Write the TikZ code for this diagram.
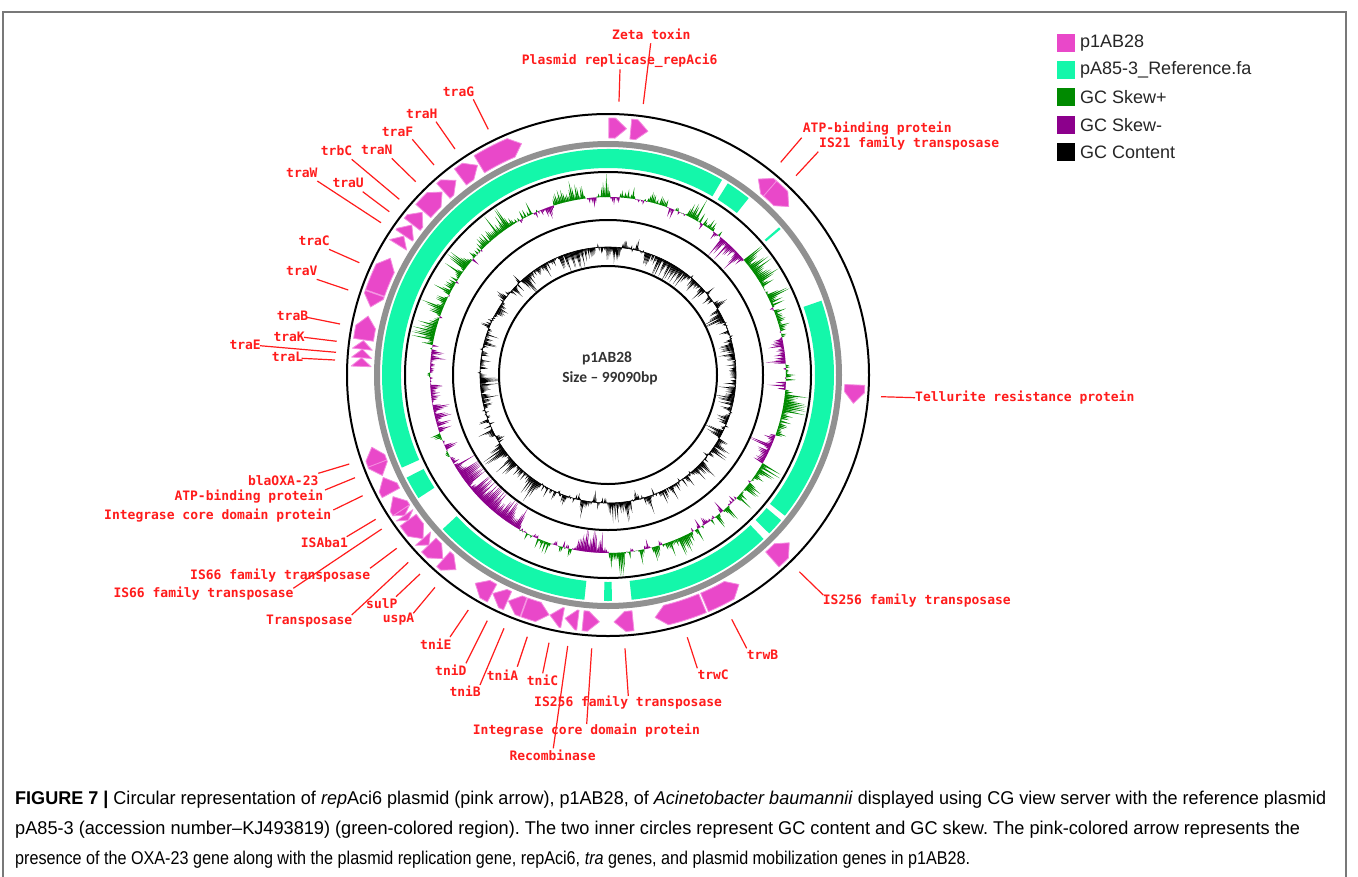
\documentclass[tikz,border=0pt]{standalone}
\usepackage{fontspec}
\usepackage{graphicx}
\setmainfont{Liberation Sans}
\newfontfamily\labfont{DejaVu Sans Mono}
\newfontfamily\cenfont{Carlito}
\definecolor{pinkF}{RGB}{233,72,201}
\definecolor{pinkL}{RGB}{244,140,224}
\definecolor{mintF}{RGB}{20,247,170}
\definecolor{ringgray}{RGB}{145,145,145}
\definecolor{skewpos}{RGB}{0,138,0}
\definecolor{skewneg}{RGB}{140,0,140}
\definecolor{labred}{RGB}{255,28,28}
\definecolor{framegray}{RGB}{120,120,120}
\definecolor{captext}{RGB}{40,40,40}
\newsavebox\capboxa
\newsavebox\capboxb
\newsavebox\capboxc
\tikzset{
  featstyle/.style={fill=pinkF,draw=pinkL,line width=0.8pt,line join=round},
  segstyle/.style={fill=mintF},
  labstyle/.style={text=labred,font=\labfont\bfseries\fontsize{13}{13}\selectfont,inner sep=0pt,anchor=west},
  leader/.style={draw=labred,line width=1.2pt},
  ringline/.style={draw=black,line width=2pt},
  legtext/.style={font=\fontsize{18}{18}\selectfont,text=black!85,inner sep=0pt,anchor=west},
  captext/.style={text=captext,inner sep=0pt,anchor=west},
  centext/.style={font=\cenfont\bfseries\fontsize{15.5}{15.5}\selectfont,text=black!80,inner sep=0pt},
}
% feature: start angle, end angle (clockwise from north), direction
\newcommand\feat[3]{%
  \pgfmathsetmacro\fA{#1-90}%
  \pgfmathsetmacro\fB{#2-90}%
  \pgfmathsetmacro\fH{min(2.6,#2-#1)}%
  \ifnum#3>0
    \pgfmathsetmacro\fC{\fB-\fH}%
    \path[featstyle] (\fA:237) arc[start angle=\fA,end angle=\fC,radius=237] -- (\fB:247) -- (\fC:257) arc[start angle=\fC,end angle=\fA,radius=257] -- cycle;
  \else
    \pgfmathsetmacro\fC{\fA+\fH}%
    \path[featstyle] (\fA:247) -- (\fC:237) arc[start angle=\fC,end angle=\fB,radius=237] -- (\fB:257) arc[start angle=\fB,end angle=\fC,radius=257] -- cycle;
  \fi}
\newcommand\gseg[2]{%
  \pgfmathsetmacro\fA{#1-90}%
  \pgfmathsetmacro\fB{#2-90}%
  \path[segstyle] (\fA:207) arc[start angle=\fA,end angle=\fB,radius=207] -- (\fB:226) arc[start angle=\fB,end angle=\fA,radius=226] -- cycle;}
\newcommand\glab[8]{%
  \node[labstyle] (#1) at (#2,#3) {#4};
  \coordinate (#1s) at (#5,#6);
  \coordinate (#1e) at (#7,#8);
  \draw[leader] (#1s) -- (#1e);}
\begin{document}
\frenchspacing
\sbox\capboxa{\fontsize{18.5}{18.5}\selectfont\textbf{FIGURE 7 |} Circular representation of \textit{rep}Aci6 plasmid (pink arrow), p1AB28, of \textit{Acinetobacter baumannii} displayed using CG view server with the reference plasmid}%
\sbox\capboxb{\fontsize{18.5}{18.5}\selectfont pA85-3 (accession number–KJ493819) (green-colored region). The two inner circles represent GC content and GC skew. The pink-colored arrow represents the}%
\sbox\capboxc{\fontsize{18.5}{18.5}\selectfont presence of the OXA-23 gene along with the plasmid replication gene, repAci6, \textit{tra} genes, and plasmid mobilization genes in p1AB28.}%
\pgfmathsetmacro\capsc{1311/\the\wd\capboxa}%
\pgfmathsetmacro\capsb{1285/\the\wd\capboxb}%
\pgfmathsetmacro\capsd{955/\the\wd\capboxc}%
\begin{tikzpicture}[x=1pt,y=-1pt]
\useasboundingbox (0,0) rectangle (1358,876);
\fill[white] (0,0) rectangle (1358,876);
\draw[framegray,line width=1.2pt] (3,880) -- (3,12) -- (1346,12) -- (1346,880);

\begin{scope}[shift={(608,375)}]
  % GC content
  \pgfmathsetseed{3}
  \gdef\gprev{0}
  \draw[black,line width=0.6pt] (0,0) circle[radius=128];
  \foreach \i in {0,...,719}{
    \pgfmathsetmacro\gt{\i*0.5}
    \pgfmathtruncatemacro\gk{floor(\gt/10)}
    \pgfmathsetmacro\gb{{-6,-5,-4,-3,-2,-3,-2,-2,-3,-4,-3,-4,4,8,3,2,1,5,-2,1,2,6,8,4,-1,-3,-4,-3,-2,-2,-1,-2,-2,-3,-5,-6}[\gk]}
    \pgfmathsetmacro\gn{0.8*\gprev+rnd-0.5}
    \xdef\gprev{\gn}
    \pgfmathsetmacro\gv{max(-20,min(24,1.25*(1.5*\gb+12*\gn)*(0.35+1.1*rnd)))}
    \pgfmathsetmacro\gr{128+\gv}
    \pgfmathsetmacro\ga{\gt-90}
    \fill[black] (\ga-0.33:128) -- (\ga:\gr) -- (\ga+0.33:128) -- cycle;
  }
  % GC skew
  \pgfmathsetseed{11}
  \gdef\gprev{0}
  \foreach \i in {0,...,719}{
    \pgfmathsetmacro\gt{\i*0.5}
    \pgfmathtruncatemacro\gk{floor(\gt/10)}
    \pgfmathsetmacro\gb{{3,4,5,2,-6,4,5,2,3,4,3,-5,7,2,-2,3,4,3,-2,1,-3,-9,-10,-5,-3,-4,-3,-2,2,2,4,3,5,3,3,2}[\gk]}
    \pgfmathsetmacro\gn{0.8*\gprev+rnd-0.5}
    \xdef\gprev{\gn}
    \pgfmathsetmacro\gv{max(-23,min(23,1.3*(1.6*\gb+14*\gn)*(0.35+1.1*rnd)))}
    \pgfmathsetmacro\gr{178+\gv}
    \pgfmathsetmacro\ga{\gt-90}
    \ifdim\gv pt>0pt
      \fill[skewpos] (\ga-0.33:178) -- (\ga:\gr) -- (\ga+0.33:178) -- cycle;
    \else
      \fill[skewneg] (\ga-0.33:178) -- (\ga:\gr) -- (\ga+0.33:178) -- cycle;
    \fi
  }
  % rings
  \draw[ringline] (0,0) circle[radius=109];
  \draw[ringline] (0,0) circle[radius=155];
  \draw[ringline] (0,0) circle[radius=203];
  \draw[ringgray,line width=6pt] (0,0) circle[radius=231];
  \draw[ringline] (0,0) circle[radius=261];
  % reference segments
  \gseg{-114.2}{30.3}
  \gseg{32}{38.5}
  \gseg{49.2}{49.8}
  \gseg{70.8}{128.5}
  \gseg{130}{134.5}
  \gseg{136.5}{174}
  \gseg{179}{181}
  \gseg{186}{227}
  \gseg{237}{243}
  % features
  \feat{0.2}{4.3}{1}
  \feat{5.3}{9.3}{1}
  \feat{37.5}{41}{-1}
  \feat{41}{47}{1}
  \feat{92.3}{96.6}{1}
  \feat{132.8}{138.3}{-1}
  \feat{148}{157}{-1}
  \feat{157.5}{169}{1}
  \feat{174.2}{178.6}{1}
  \feat{182}{185.8}{-1}
  \feat{187}{190}{1}
  \feat{190.6}{193.6}{1}
  \feat{193.8}{199.8}{-1}
  \feat{200}{203.8}{1}
  \feat{204}{207.8}{1}
  \feat{208}{212.5}{1}
  \feat{218}{221.8}{-1}
  \feat{222}{226.5}{-1}
  \feat{226.5}{228.5}{-1}
  \feat{228.5}{234}{-1}
  \feat{234}{235.4}{-1}
  \feat{235.4}{236.8}{-1}
  \feat{236.8}{240.5}{1}
  \feat{241.5}{245.5}{1}
  \feat{246}{249}{-1}
  \feat{249}{253}{1}
  \feat{272}{274}{1}
  \feat{274}{276}{1}
  \feat{276}{278}{1}
  \feat{278.2}{283.8}{1}
  \feat{286}{289.2}{-1}
  \feat{289.4}{298.2}{1}
  \feat{301.8}{304.2}{1}
  \feat{304.4}{307.4}{1}
  \feat{307.6}{311.2}{1}
  \feat{311.6}{317.8}{1}
  \feat{318.2}{322}{1}
  \feat{323.3}{328.1}{1}
  \feat{328.6}{339.5}{1}
  % centre
  \node[centext] (cname) at (-1,-17) {p1AB28};
  \node[centext] (csize) at (2,3) {Size – 99090bp};
\end{scope}

% labels
\glab{lzeta}{612}{34}{Zeta toxin}{650.7}{43.3}{643.3}{104}
\glab{lplas}{521.7}{61}{Plasmid replicase\_repAci6}{620}{69.3}{619}{101.7}
\glab{ltraG}{442.7}{91.7}{traG}{473.3}{99.3}{488.3}{129.3}
\glab{ltraH}{406}{114}{traH}{436}{121.7}{455}{149}
\glab{ltraF}{381.7}{131.7}{traF}{412.3}{139.3}{434}{165}
\glab{ltraN}{361}{150}{traN}{391.7}{158.3}{415.7}{181.7}
\glab{ltrbC}{320.7}{150.7}{trbC}{351.7}{159.3}{399.3}{199.3}
\glab{ltraU}{332.3}{183.3}{traU}{362.7}{191.7}{389.3}{211.7}
\glab{ltraW}{286}{172.7}{traW}{317.3}{181}{381}{222.7}
\glab{ltraC}{298.3}{240.7}{traC}{329}{249.3}{359.3}{262.7}
\glab{ltraV}{286}{271}{traV}{316.7}{279.3}{348.3}{290}
\glab{ltraB}{276.7}{316}{traB}{306.7}{317.3}{340}{324}
\glab{ltraK}{273.3}{336.7}{traK}{304}{337.3}{336.7}{341.3}
\glab{ltraE}{229.3}{345}{traE}{260}{345.7}{336}{352.3}
\glab{ltraL}{271.7}{357.3}{traL}{301.7}{358.3}{335}{360}
\glab{lbla}{247.8}{480.7}{blaOXA-23}{318.3}{473.3}{349.3}{464}
\glab{latpA}{174.3}{496.7}{ATP-binding protein}{325}{490}{355}{477.7}
\glab{lintA}{104}{516}{Integrase core domain protein}{333.3}{510}{362.7}{495.7}
\glab{lisaba}{300.7}{542.7}{ISAba1}{346.7}{536.7}{375.7}{519.3}
\glab{lisA}{190}{575.7}{IS66 family transposase}{370}{568.3}{396.7}{548.3}
\glab{lisB}{113.3}{593.3}{IS66 family transposase}{293.3}{588.3}{381.7}{529}
\glab{ltrans}{266}{620.7}{Transposase}{351.7}{615}{408.3}{562.3}
\glab{lsulP}{366}{603.3}{sulP}{396}{596.7}{420}{574}
\glab{luspA}{382.7}{619.3}{uspA}{413.3}{613.3}{435}{587.3}
\glab{ltniE}{420}{644}{tniE}{450}{637}{468.3}{610}
\glab{ltniD}{435}{670}{tniD}{466}{663.3}{487.3}{620.7}
\glab{ltniB}{449.3}{691.7}{tniB}{480}{685}{504}{628.3}
\glab{ltniA}{486.7}{675}{tniA}{517.3}{666.7}{527.3}{636.7}
\glab{ltniC}{526.7}{680.7}{tniC}{542.7}{673.3}{549}{642.7}
\glab{lisC}{534}{702.7}{IS256 family transposase}{628.3}{696}{625}{648.3}
\glab{lintB}{472.7}{730.7}{Integrase core domain protein}{586.7}{724}{591.7}{648.3}
\glab{lrec}{509.3}{755}{Recombinase}{553.3}{748.3}{567.7}{646}
\glab{ltrwC}{697.3}{675}{trwC}{697.3}{668.3}{687.3}{637.3}
\glab{ltrwB}{746.7}{655}{trwB}{746.7}{648.3}{731.7}{619.3}
\glab{lisD}{822.7}{601}{IS256 family transposase}{823.3}{595}{799.3}{571.7}
\glab{ltel}{915}{397.7}{Tellurite resistance protein}{915}{397.7}{881}{396.7}
\glab{latpB}{802.7}{129}{ATP-binding protein}{801.7}{137.7}{780.7}{162.3}
\glab{lis21}{819}{144}{IS21 family transposase}{818.3}{151.7}{796}{175.7}

% legend
\foreach [count=\j] \cc/\tx in {pinkF/p1AB28, mintF/pA85-3\_Reference.fa, skewpos/GC Skew+, skewneg/GC Skew-, black/GC Content}{
  \pgfmathsetmacro\ly{43+(\j-1)*27.2}
  \fill[\cc] (1057,\ly-9) rectangle (1075,\ly+9);
  \node[legtext] (leg\j) at (1080,\ly) {\tx};
}

% caption
\node[captext] (cap1) at (15,800) {\scalebox{\capsc}[1]{\usebox\capboxa}};
\node[captext] (cap2) at (15,830) {\scalebox{\capsb}[1]{\usebox\capboxb}};
\node[captext] (cap3) at (15,860) {\scalebox{\capsd}[1]{\usebox\capboxc}};
\end{tikzpicture}
\end{document}
